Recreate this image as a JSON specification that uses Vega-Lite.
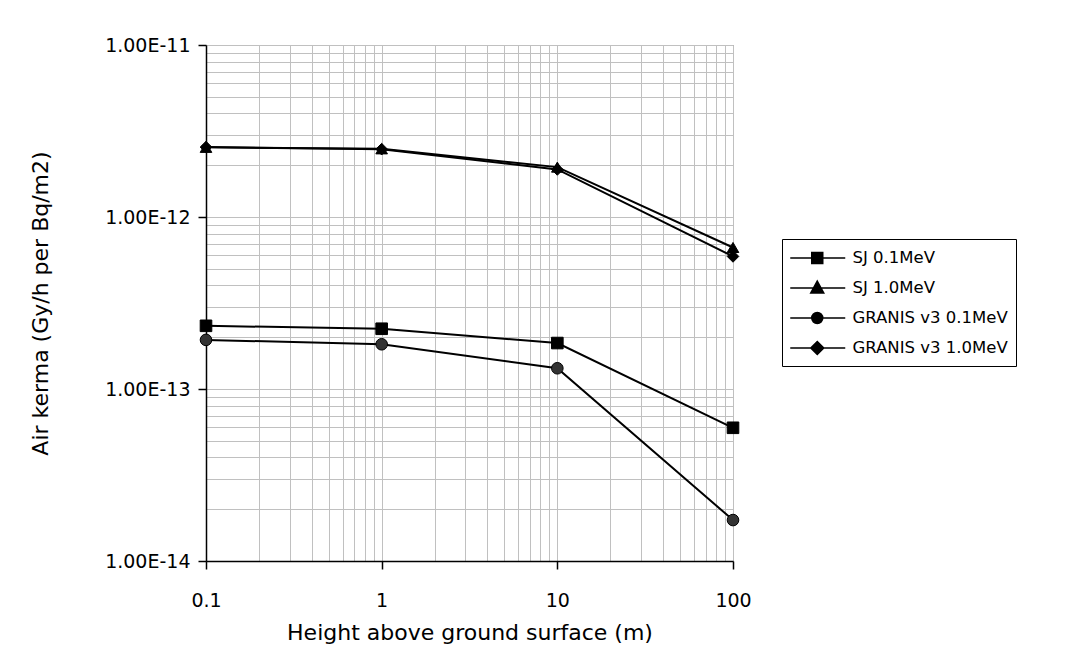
{
  "$schema": "https://vega.github.io/schema/vega-lite/v6.json",
  "width": 527,
  "height": 516,
  "autosize": {"type": "none"},
  "padding": {"left": 206, "top": 45, "right": 350, "bottom": 110},
  "background": "white",
  "config": {
    "view": {"stroke": "#808080", "strokeWidth": 1},
    "font": "DejaVu Sans",
    "axis": {
      "labelFont": "DejaVu Sans",
      "titleFont": "DejaVu Sans",
      "labelFontSize": 19,
      "titleFontSize": 21,
      "titleFontWeight": "normal",
      "labelColor": "black",
      "titleColor": "black",
      "domainColor": "black",
      "domainWidth": 1.5,
      "tickColor": "black",
      "tickWidth": 1.5,
      "gridColor": "#c0c0c0",
      "gridWidth": 1,
      "gridOpacity": 1,
      "labelFlush": false
    }
  },
  "data": {
    "values": [
      {"h": 0.1, "k": 2.33e-13, "s": "SJ 0.1MeV"},
      {"h": 1, "k": 2.24e-13, "s": "SJ 0.1MeV"},
      {"h": 10, "k": 1.85e-13, "s": "SJ 0.1MeV"},
      {"h": 100, "k": 5.95e-14, "s": "SJ 0.1MeV"},
      {"h": 0.1, "k": 2.54e-12, "s": "SJ 1.0MeV"},
      {"h": 1, "k": 2.49e-12, "s": "SJ 1.0MeV"},
      {"h": 10, "k": 1.95e-12, "s": "SJ 1.0MeV"},
      {"h": 100, "k": 6.65e-13, "s": "SJ 1.0MeV"},
      {"h": 0.1, "k": 1.93e-13, "s": "GRANIS v3 0.1MeV"},
      {"h": 1, "k": 1.82e-13, "s": "GRANIS v3 0.1MeV"},
      {"h": 10, "k": 1.32e-13, "s": "GRANIS v3 0.1MeV"},
      {"h": 100, "k": 1.73e-14, "s": "GRANIS v3 0.1MeV"},
      {"h": 0.1, "k": 2.55e-12, "s": "GRANIS v3 1.0MeV"},
      {"h": 1, "k": 2.48e-12, "s": "GRANIS v3 1.0MeV"},
      {"h": 10, "k": 1.89e-12, "s": "GRANIS v3 1.0MeV"},
      {"h": 100, "k": 5.9e-13, "s": "GRANIS v3 1.0MeV"}
    ]
  },
  "encoding": {
    "x": {
      "field": "h",
      "type": "quantitative",
      "scale": {"type": "log", "domain": [0.1, 100], "nice": false},
      "axis": {
        "title": "Height above ground surface (m)",
        "titlePadding": 12,
        "titleFontSize": 22,
        "values": [0.1,0.2,0.3,0.4,0.5,0.6,0.7,0.8,0.9,1,2,3,4,5,6,7,8,9,10,20,30,40,50,60,70,80,90,100],
        "labelExpr": "abs(log(datum.value)/LN10 - round(log(datum.value)/LN10)) < 0.001 ? format(datum.value, '~g') : ''",
        "tickSize": 8,
        "labelPadding": 22,
        "tickOpacity": {"condition": {"test": "abs(log(datum.value)/LN10 - round(log(datum.value)/LN10)) < 0.001", "value": 1}, "value": 0}
      }
    },
    "y": {
      "field": "k",
      "type": "quantitative",
      "scale": {"type": "log", "domain": [1e-14, 1e-11], "nice": false},
      "axis": {
        "title": "Air kerma (Gy/h per Bq/m2)",
        "titlePadding": 52,
        "titleFontSize": 22,
        "values": [1e-14,2e-14,3e-14,4e-14,5e-14,6e-14,7e-14,8e-14,9e-14,1e-13,2e-13,3e-13,4e-13,5e-13,6e-13,7e-13,8e-13,9e-13,1e-12,2e-12,3e-12,4e-12,5e-12,6e-12,7e-12,8e-12,9e-12,1e-11],
        "labelExpr": "abs(log(datum.value)/LN10 - round(log(datum.value)/LN10)) < 0.001 ? '1.00E-' + round(-log(datum.value)/LN10) : ''",
        "tickSize": 8,
        "labelPadding": 8,
        "tickOpacity": {"condition": {"test": "abs(log(datum.value)/LN10 - round(log(datum.value)/LN10)) < 0.001", "value": 1}, "value": 0}
      }
    }
  },
  "resolve": {"scale": {"shape": "independent"}},
  "layer": [
    {
      "mark": {"type": "line", "color": "black", "strokeWidth": 2},
      "encoding": {"detail": {"field": "s"}}
    },
    {
      "mark": {"type": "point", "filled": true, "size": 135, "stroke": "black", "strokeWidth": 1, "opacity": 1},
      "encoding": {
        "shape": {
          "field": "s",
          "type": "nominal",
          "scale": {
            "domain": ["SJ 0.1MeV", "SJ 1.0MeV", "GRANIS v3 0.1MeV", "GRANIS v3 1.0MeV"],
            "range": ["square", "triangle-up", "circle", "diamond"]
          },
          "legend": null
        },
        "fill": {
          "field": "s",
          "type": "nominal",
          "scale": {
            "domain": ["SJ 0.1MeV", "SJ 1.0MeV", "GRANIS v3 0.1MeV", "GRANIS v3 1.0MeV"],
            "range": ["black", "black", "#333333", "black"]
          },
          "legend": null
        }
      }
    },
    {
      "mark": {"type": "point", "filled": false, "size": 0, "stroke": "black", "strokeWidth": 1.5, "opacity": 0},
      "encoding": {
        "shape": {
          "field": "s",
          "type": "nominal",
          "scale": {
            "domain": ["SJ 0.1MeV", "SJ 1.0MeV", "GRANIS v3 0.1MeV", "GRANIS v3 1.0MeV"],
            "range": [
              "M-1.075,0H4.425M1.075,-0.55H2.175V0.55H1.075ZM1.075,-0.45H2.175M1.075,-0.35H2.175M1.075,-0.25H2.175M1.075,-0.15H2.175M1.075,-0.05H2.175M1.075,0.05H2.175M1.075,0.15H2.175M1.075,0.25H2.175M1.075,0.35H2.175M1.075,0.45H2.175",
              "M-1.075,0H4.425M1.625,-0.7L2.275,0.5L0.975,0.5ZM1.517,-0.5H1.733M1.4625,-0.4H1.7875M1.408,-0.3H1.842M1.354,-0.2H1.896M1.3,-0.1H1.95M1.192,0.1H2.058M1.1375,0.2H2.1125M1.083,0.3H2.167M1.029,0.4H2.221",
              "M-1.075,0H4.425M2.175,0A0.55,0.55 0 1,1 1.075,0A0.55,0.55 0 1,1 2.175,0ZM1.396,-0.5H1.854M1.248,-0.4H2.002M1.164,-0.3H2.086M1.113,-0.2H2.137M1.084,-0.1H2.166M1.084,0.1H2.166M1.113,0.2H2.137M1.164,0.3H2.086M1.248,0.4H2.002M1.396,0.5H1.854",
              "M-1.075,0H4.425M1.625,-0.65L2.275,0L1.625,0.65L0.975,0ZM1.475,-0.5H1.775M1.375,-0.4H1.875M1.275,-0.3H1.975M1.175,-0.2H2.075M1.075,-0.1H2.175M1.075,0.1H2.175M1.175,0.2H2.075M1.275,0.3H1.975M1.375,0.4H1.875M1.475,0.5H1.775"
            ]
          },
          "legend": {
            "title": null,
            "orient": "none",
            "legendX": 576,
            "legendY": 194,
            "strokeColor": "black",
            "padding": 8,
            "symbolSize": 400,
            "symbolStrokeWidth": 1.5,
            "symbolStrokeColor": "black",
            "symbolOpacity": 1,
            "labelFont": "DejaVu Sans",
            "labelFontSize": 16.5,
            "labelColor": "black",
            "labelOffset": 40.5,
            "rowPadding": 10
          }
        }
      }
    }
  ]
}
